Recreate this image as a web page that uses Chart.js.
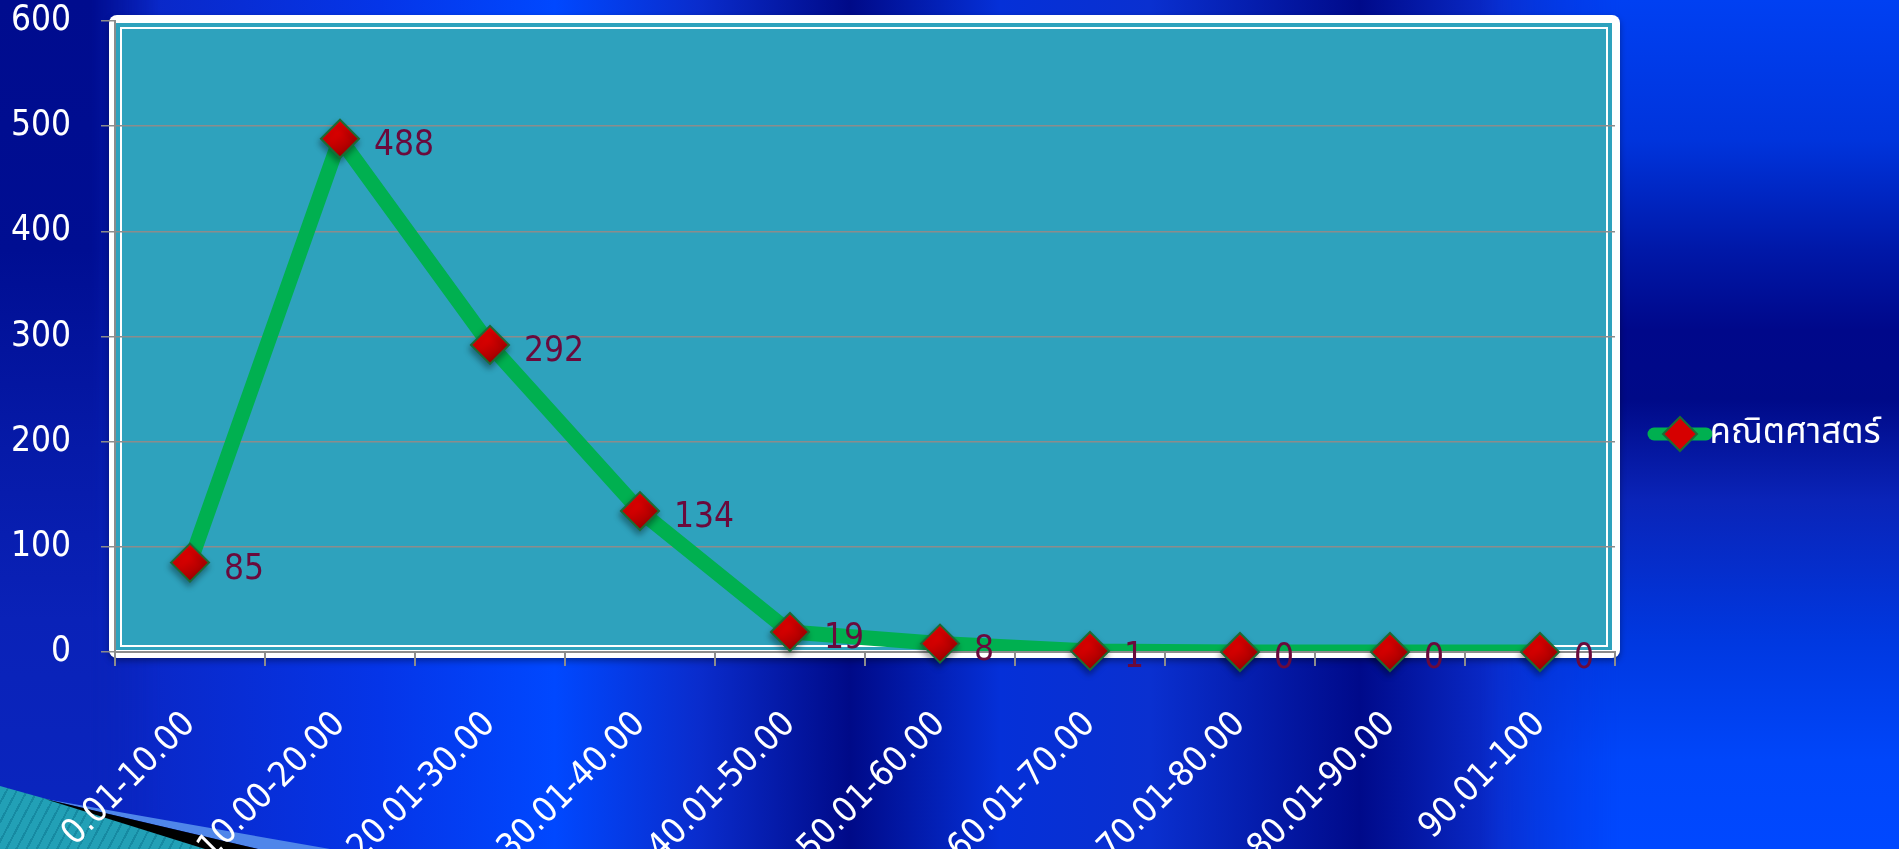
<!DOCTYPE html>
<html>
<head>
<meta charset="utf-8">
<script src="https://cdn.jsdelivr.net/npm/chart.js@4"></script>
<style>
html, body { margin: 0; padding: 0; }
body {
  width: 1899px; height: 849px; overflow: hidden; position: relative;
  background:
    linear-gradient(90deg, #0a1cae 0px, #0a28c8 150px, #0535e8 380px, #0048ff 555px, #0a2ccc 700px, #000a88 850px, #0530d8 1000px, #0a30d0 1150px, #000a8a 1360px, #0a2ccc 1500px, #0040f0 1700px, #0048ff 1899px);
}
.deco { position: absolute; left: 0; top: 0; width: 1899px; height: 849px; }
#right { left: 1480px; width: 419px;
  background: linear-gradient(180deg, #0040f2 0px, #0034dc 140px, #0018a8 250px, #00088a 330px, #000a88 400px, #0a24b8 500px, #0038e0 640px, #0046fa 760px, #0048ff 849px);
  -webkit-mask-image: linear-gradient(90deg, transparent 0px, #000 140px);
  mask-image: linear-gradient(90deg, transparent 0px, #000 140px); }
#left { width: 160px;
  background: linear-gradient(180deg, #000c8e 0px, #000e92 250px, #061aa8 450px, #0a22b8 620px, #0a26c0 849px);
  -webkit-mask-image: linear-gradient(90deg, #000 0px, #000 90px, transparent 160px);
  mask-image: linear-gradient(90deg, #000 0px, #000 90px, transparent 160px); }
#teal { background: repeating-linear-gradient(118deg, #22a0b6 0px, #22a0b6 7px, #168aa2 7px, #168aa2 9px); clip-path: polygon(0px 786px, 50px 800px, 215px 849px, 0px 849px); }
#black { background: #000; clip-path: polygon(45px 799px, 258px 849px, 205px 849px); }
#light { background: #4f86ea; clip-path: polygon(45px 799px, 330px 849px, 258px 849px); }
#wrap { position: absolute; left: 0; top: 0; width: 1899px; height: 849px; }
</style>
</head>
<body>
<div class="deco" id="right"></div>
<div class="deco" id="left"></div>
<div class="deco" id="light"></div>
<div class="deco" id="teal"></div>
<div class="deco" id="black"></div>
<div id="wrap"><canvas id="c" width="1899" height="849"></canvas></div>
<script>
// ---- data ----
const categories = ['0.01-10.00', '10.00-20.00', '20.01-30.00', '30.01-40.00', '40.01-50.00',
                    '50.01-60.00', '60.01-70.00', '70.01-80.00', '80.01-90.00', '90.01-100'];
const mathCounts = [85, 488, 292, 134, 19, 8, 1, 0, 0, 0];
const seriesName = 'คณิตศาสตร์';
const yTicks = [0, 100, 200, 300, 400, 500, 600];

const FONT = '"DejaVu Sans Condensed", "Noto Sans", "Noto Sans Thai", sans-serif';

const panelPlugin = {
  id: 'panel',
  beforeDraw(chart) {
    const { ctx, chartArea: a } = chart;
    ctx.save();
    ctx.shadowColor = 'rgba(0,0,0,0.35)';
    ctx.shadowBlur = 6;
    ctx.shadowOffsetY = 3;
    ctx.fillStyle = '#ffffff';
    ctx.beginPath();
    ctx.roundRect(a.left - 6, a.top - 6, (a.right + 5) - (a.left - 6), (a.bottom + 6) - (a.top - 6), 8);
    ctx.fill();
    ctx.restore();
    ctx.save();
    ctx.fillStyle = '#2ea2bd';
    ctx.fillRect(a.left, a.top + 2, (a.right - 3) - a.left, (a.bottom - 2) - (a.top + 2));
    ctx.strokeStyle = '#ffffff';
    ctx.lineWidth = 2;
    ctx.strokeRect(a.left + 6, a.top + 7, (a.right - 8) - (a.left + 6), (a.bottom - 6) - (a.top + 7));
    ctx.restore();
    // green line behind legend marker
    const lg = chart.legend;
    if (lg && lg.legendHitBoxes && lg.legendHitBoxes.length) {
      const hb = lg.legendHitBoxes[0];
      const bw = lg.options.labels.boxWidth;
      const cx = hb.left + bw / 2;
      const cy = hb.top + hb.height / 2;
      ctx.save();
      ctx.strokeStyle = '#00b050';
      ctx.lineWidth = 13;
      ctx.lineCap = 'round';
      ctx.beginPath();
      ctx.moveTo(cx - 26, cy);
      ctx.lineTo(cx + 26, cy);
      ctx.stroke();
      ctx.restore();
    }
  },
  beforeLayout(chart) {
    const lg = chart.legend;
    if (lg && !lg._patched) {
      const orig = lg.fit.bind(lg);
      lg.fit = function () { orig(); this.width = 284; };
      lg._patched = true;
    }
  },
  beforeDatasetDraw(chart, args) {
    if (args.index === 1) {
      const ctx = chart.ctx;
      ctx.save();
      ctx.shadowColor = 'rgba(0,0,0,0.35)';
      ctx.shadowBlur = 6;
      ctx.shadowOffsetX = -1;
      ctx.shadowOffsetY = 4;
    }
  },
  afterDatasetDraw(chart, args) {
    if (args.index === 1) chart.ctx.restore();
  }
};

const valueLabels = {
  id: 'valueLabels',
  afterDatasetsDraw(chart) {
    const ctx = chart.ctx;
    const meta = chart.getDatasetMeta(1);
    const vals = chart.data.datasets[1].data;
    ctx.save();
    ctx.font = '35px ' + FONT;
    ctx.fillStyle = '#6a0a3c';
    ctx.textAlign = 'left';
    ctx.textBaseline = 'middle';
    meta.data.forEach((pt, i) => {
      ctx.fillText(String(vals[i]), pt.x + 34, pt.y + 7);
    });
    ctx.restore();
  }
};

function markerFill(c) {
  const ch = c.chart;
  const xs = ch.scales && ch.scales.x, ys = ch.scales && ch.scales.y;
  if (!xs || !ys || c.raw === undefined) return '#d60000';
  const x = xs.getPixelForValue(c.dataIndex), y = ys.getPixelForValue(c.raw);
  if (!isFinite(x) || !isFinite(y)) return '#d60000';
  const g = ch.ctx.createLinearGradient(x - 8, y - 14, x + 8, y + 14);
  g.addColorStop(0, '#f40000');
  g.addColorStop(1, '#a20000');
  return g;
}

new Chart(document.getElementById('c'), {
  type: 'line',
  data: {
    labels: categories,
    datasets: [{
      // the line, clipped at the bottom of the plot area
      label: seriesName,
      data: mathCounts,
      order: 2,
      borderColor: '#00b050',
      borderWidth: 15,
      tension: 0,
      fill: false,
      clip: { left: false, top: false, right: false, bottom: -1 },
      pointStyle: 'rectRot',
      pointRadius: 0,
      pointHoverRadius: 0
    }, {
      // the diamond markers, drawn on top and never clipped
      label: seriesName,
      data: mathCounts,
      order: 1,
      showLine: false,
      clip: false,
      pointStyle: 'rectRot',
      pointRadius: 19,
      pointHoverRadius: 19,
      pointBackgroundColor: markerFill,
      pointBorderColor: '#1d6b35',
      pointBorderWidth: 2
    }]
  },
  options: {
    responsive: false,
    animation: false,
    devicePixelRatio: 1,
    layout: { padding: { top: 19, left: 0, right: 0, bottom: 0 } },
    plugins: {
      tooltip: { enabled: false },
      legend: {
        position: 'right',
        labels: {
          usePointStyle: true,
          boxWidth: 24,
          boxHeight: 24,
          padding: 53,
          color: '#ffffff',
          font: { family: FONT, size: 35 },
          filter: (item) => item.datasetIndex === 0,
          generateLabels(chart) {
            const items = Chart.defaults.plugins.legend.labels.generateLabels(chart);
            items.forEach(it => {
              it.fillStyle = '#d60000';
              it.strokeStyle = '#1d6b35';
              it.lineWidth = 2;
              it.pointStyle = 'rectRot';
              it.fontColor = '#ffffff';
            });
            return items;
          }
        }
      }
    },
    scales: {
      x: {
        type: 'category',
        offset: true,
        grid: { display: true, drawOnChartArea: false, drawTicks: true, tickLength: 14, color: '#8c8c8c', lineWidth: 2, offset: true },
        border: { display: true, color: '#8c8c8c', width: 2 },
        ticks: { color: '#ffffff', font: { family: FONT, size: 35 }, minRotation: 45, maxRotation: 45, autoSkip: false, padding: 38 },
        afterFit(s) { s.height = 197; s.paddingLeft = 0; s.paddingRight = 0; }
      },
      y: {
        min: 0, max: 600,
        grid: {
          color: (c) => (c.tick && c.tick.value === 600) ? 'rgba(0,0,0,0)' : '#8c8c8c',
          tickColor: '#8c8c8c',
          tickLength: 14,
          lineWidth: 1.5
        },
        border: { display: true, color: '#8c8c8c', width: 2 },
        ticks: { color: '#ffffff', font: { family: FONT, size: 35 }, padding: 30 },
        afterBuildTicks(s) { s.ticks = yTicks.map(v => ({ value: v })); },
        afterFit(s) { s.width = 115; s.paddingTop = 0; s.paddingBottom = 0; }
      }
    }
  },
  plugins: [panelPlugin, valueLabels]
});
</script>
</body>
</html>
